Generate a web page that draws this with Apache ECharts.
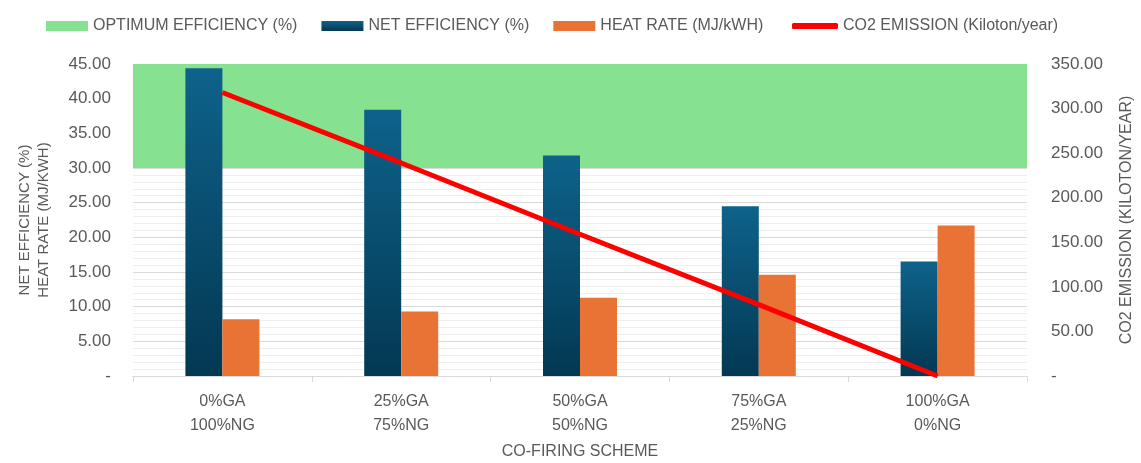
<!DOCTYPE html>
<html><head><meta charset="utf-8">
<script src="https://cdn.jsdelivr.net/npm/echarts@6/dist/echarts.min.js"></script>
<style>html,body{margin:0;padding:0;background:#fff}#c{width:1141px;height:463px}</style>
</head><body><div id="c"></div>
<script>
const categories = ['0%GA\n100%NG','25%GA\n75%NG','50%GA\n50%NG','75%GA\n25%NG','100%GA\n0%NG'];
const netEfficiency = [44.4, 38.4, 31.8, 24.5, 16.5];
const heatRate = [8.2, 9.3, 11.3, 14.6, 21.7];
const co2Emission = [318, 239, 159, 80, 0];
const optimumRange = [30, 45];
const seriesNames = ['OPTIMUM EFFICIENCY (%)','NET EFFICIENCY (%)','HEAT RATE (MJ/kWH)','CO2 EMISSION (Kiloton/year)'];

const FONT = "'Liberation Sans Narrow', 'Liberation Sans', Arial, sans-serif";
const GREY = '#595959';
const fmt = v => v === 0 ? '-' : v.toFixed(2);

const chart = echarts.init(document.getElementById('c'), null, {renderer:'canvas'});
chart.setOption({
  animation:false,
  textStyle:{fontFamily:FONT},
  legend:[{
    top:13, left:41, itemGap:24, itemWidth:42, itemHeight:10,
    textStyle:{fontFamily:FONT, fontSize:16, color:GREY},
    data:[
      {name:seriesNames[0], icon:'rect', itemStyle:{color:'#86e290'}},
      {name:seriesNames[1], icon:'rect'},
      {name:seriesNames[2], icon:'rect'}
    ]
  },{
    top:13, left:787, itemWidth:46, itemHeight:6,
    textStyle:{fontFamily:FONT, fontSize:16, color:GREY},
    data:[{name:seriesNames[3], icon:'roundRect', itemStyle:{color:'#ff0000'}}]
  }],
  grid:{left:133, right:114, top:64, bottom:87, containLabel:false, outerBoundsMode:'none'},
  xAxis:{
    type:'category', data:categories,
    name:'CO-FIRING SCHEME', nameLocation:'middle', nameGap:68,
    nameTextStyle:{fontFamily:FONT, fontSize:16, color:GREY},
    axisLine:{lineStyle:{color:'#d9d9d9'}},
    axisTick:{show:true, length:6, lineStyle:{color:'#d9d9d9'}},
    axisLabel:{color:GREY, fontSize:16, lineHeight:24, margin:14, fontFamily:FONT}
  },
  yAxis:[
    {type:'value', min:0, max:45, interval:5,
     name:'NET EFFICIENCY (%)\nHEAT RATE (MJ/KWH)', nameLocation:'middle', nameGap:80, nameRotate:90,
     nameTextStyle:{fontFamily:FONT, fontSize:15, color:GREY, lineHeight:19},
     axisLabel:{formatter:fmt, color:GREY, fontSize:17, margin:22, fontFamily:FONT},
     axisLine:{show:false}, axisTick:{show:false},
     splitLine:{lineStyle:{color:'#d9d9d9', width:1}},
     minorTick:{show:false, splitNumber:5},
     minorSplitLine:{show:true, lineStyle:{color:'#efefef', width:1}}
    },
    {type:'value', min:0, max:350, interval:50,
     name:'CO2 EMISSION (KILOTON/YEAR)', nameLocation:'middle', nameGap:92, nameRotate:90,
     nameTextStyle:{fontFamily:FONT, fontSize:16, color:GREY},
     axisLabel:{formatter:fmt, color:GREY, fontSize:17, margin:24, fontFamily:FONT, align:'left'},
     axisLine:{show:false}, axisTick:{show:false}, splitLine:{show:false}
    }
  ],
  series:[
    {name:seriesNames[0], type:'line', data:[], yAxisIndex:0,
     itemStyle:{color:'#86e290'},
     markArea:{silent:true, itemStyle:{color:'#86e290', opacity:1},
       data:[[{yAxis:optimumRange[0]},{yAxis:optimumRange[1]}]]}
    },
    {name:seriesNames[1], type:'bar', data:netEfficiency, barWidth:37, barGap:'0%', z:3,
     itemStyle:{color:new echarts.graphic.LinearGradient(0,0,0,1,[{offset:0,color:'#0e628b'},{offset:1,color:'#033852'}])}
    },
    {name:seriesNames[2], type:'bar', data:heatRate, barWidth:37, barGap:'0%', z:3,
     itemStyle:{color:'#e97334'}
    },
    {name:seriesNames[3], type:'line', data:co2Emission, yAxisIndex:1, z:5,
     symbol:'none', lineStyle:{color:'#ff0000', width:5}, itemStyle:{color:'#ff0000'}
    }
  ]
});
</script></body></html>
